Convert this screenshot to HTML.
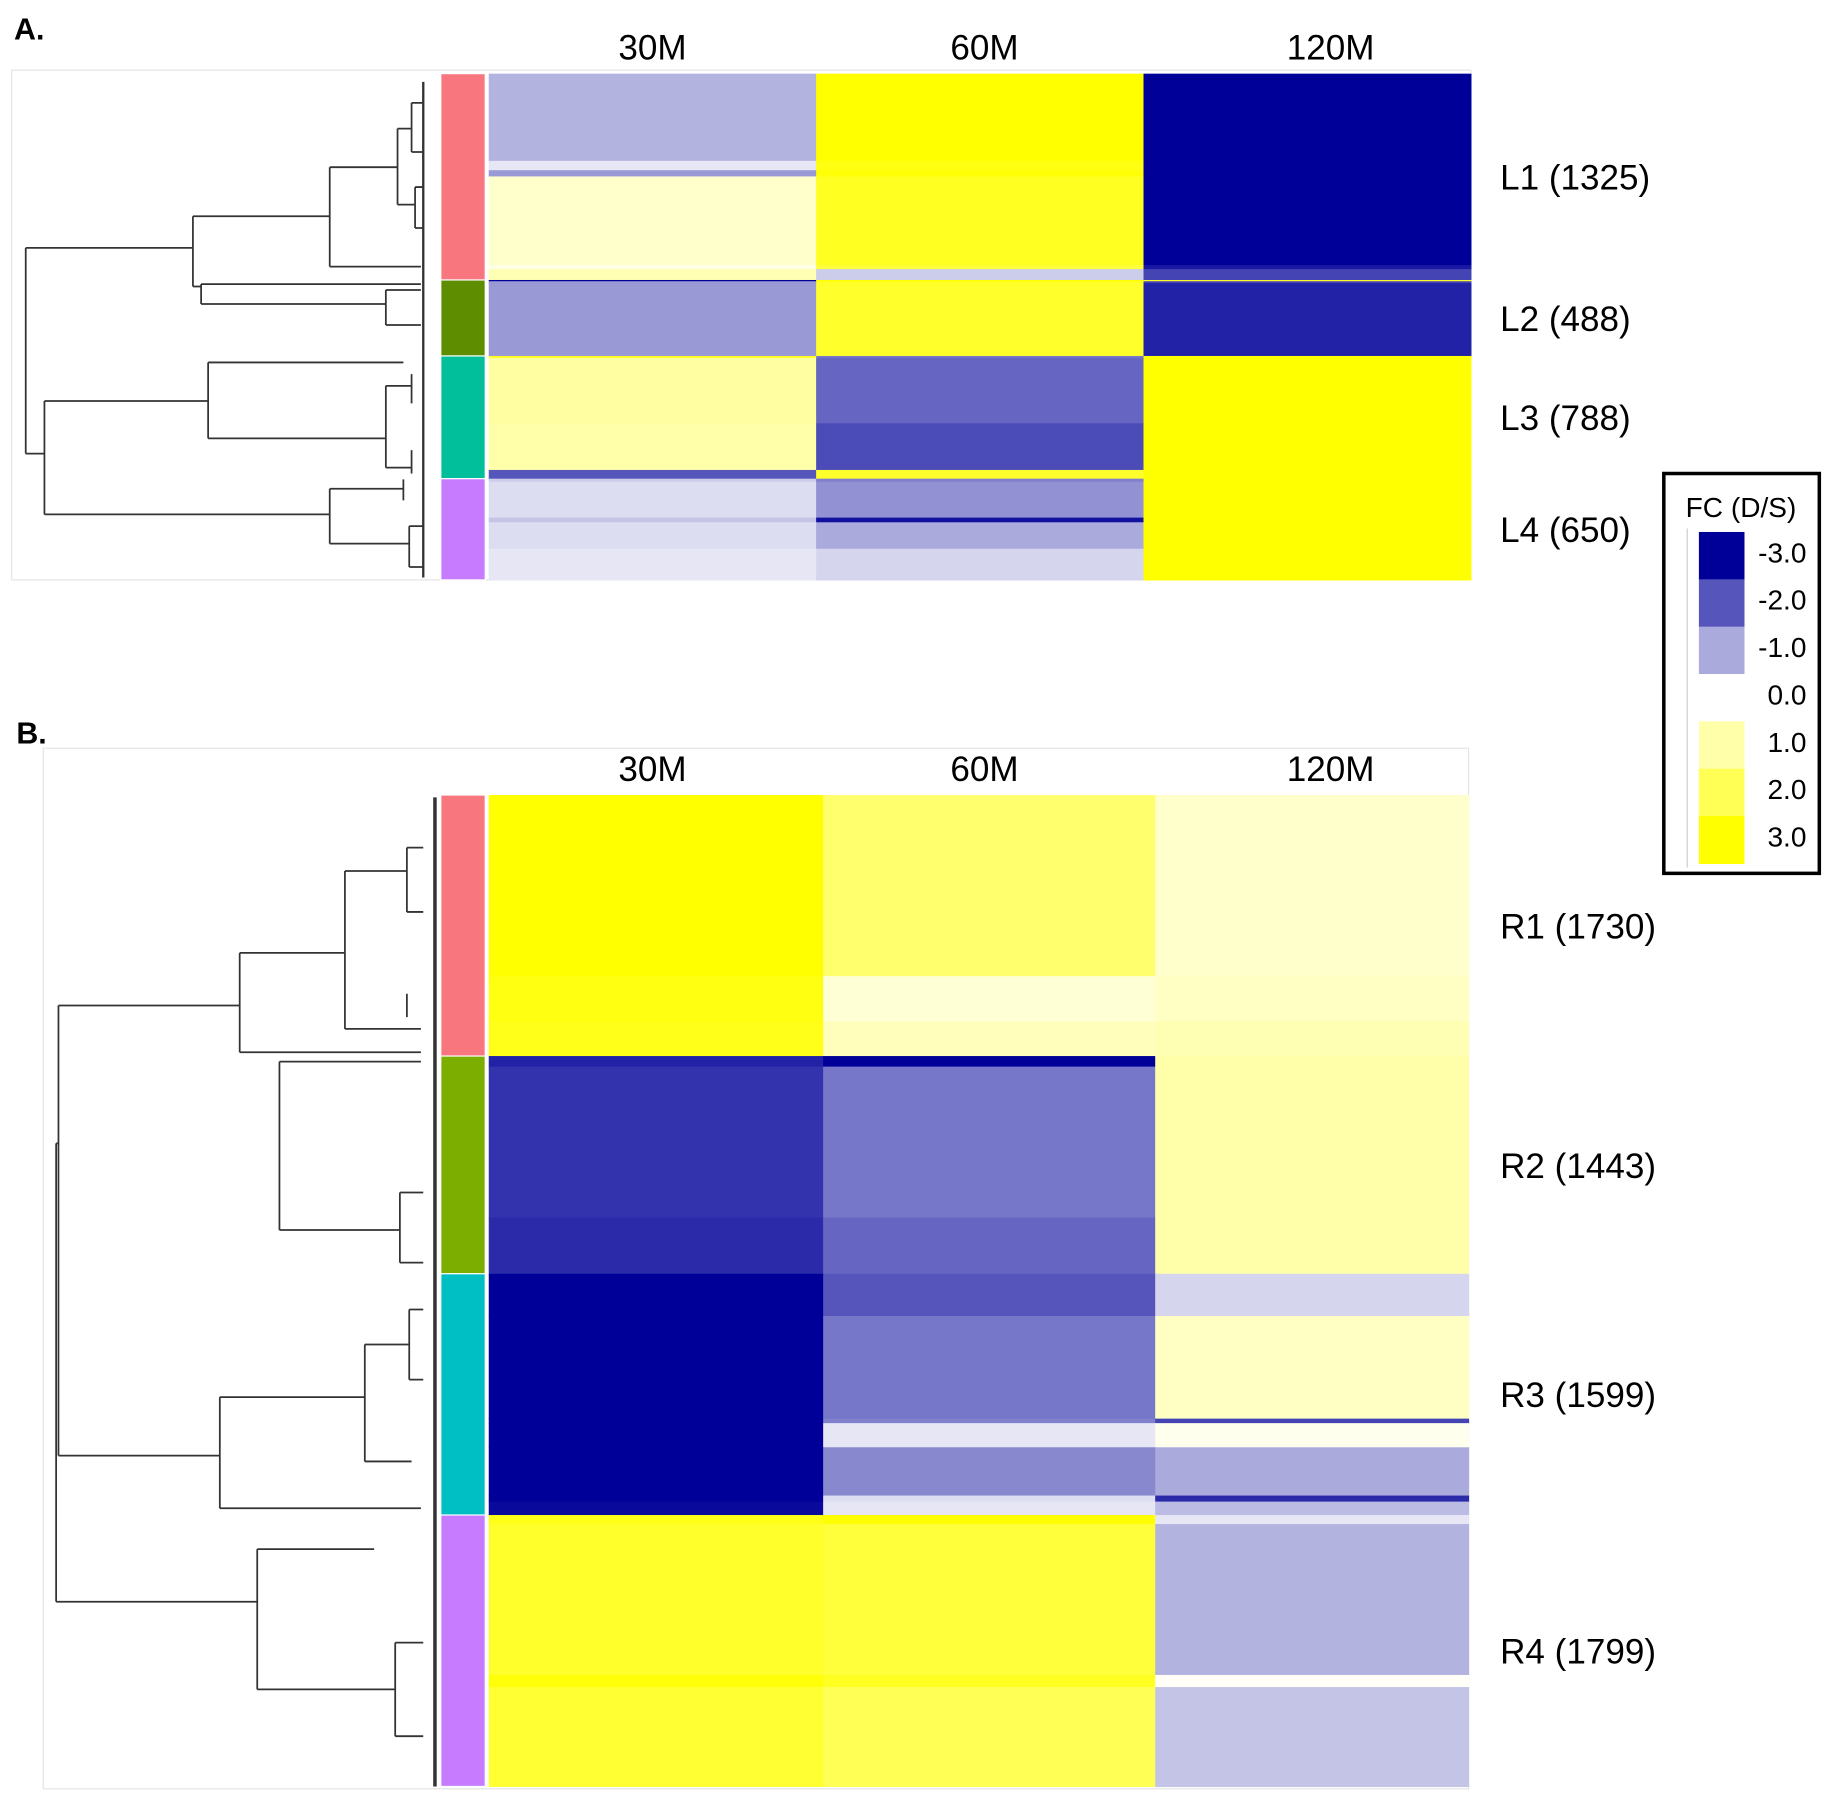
<!DOCTYPE html>
<html><head><meta charset="utf-8">
<style>
html,body{margin:0;padding:0;background:#fff;}
svg{display:block;}
text{font-family:"Liberation Sans","DejaVu Sans",sans-serif;fill:#000;}
</style></head>
<body>
<svg id="fig" xmlns="http://www.w3.org/2000/svg" width="1824" height="1804" viewBox="0 0 1560 1543" preserveAspectRatio="none">
  <rect x="0" y="0" width="1560" height="1543" fill="#fff"/>
  <text x="12" y="34" font-size="26" font-weight="bold">A.</text>
  <text x="14" y="636" font-size="26" font-weight="bold">B.</text>
  <rect x="10" y="60" width="1248" height="436" fill="none" stroke="#e4e4e4" stroke-width="1"/>
  <rect x="37" y="640" width="1219" height="890" fill="none" stroke="#e4e4e4" stroke-width="1"/>
  <g id="dendroA" fill="none" stroke="#333" stroke-width="1.5">
    <path d="M22,212 V388 M22,212 H165 M22,388 H38 M165,185 V245 M165,185 H282 M165,245 H172 M172,243 V260 M172,243 H360 M172,260 H330 M330,248 V278 M330,248 H360 M330,278 H360"/>
    <path d="M282,143 V228 M282,143 H340 M282,228 H360 M340,110 V175 M340,110 H352 M340,175 H355 M352,88 V130 M352,88 H362 M352,130 H362 M355,160 V195 M355,160 H362 M355,195 H362"/>
    <path d="M38,343 V440 M38,343 H178 M38,440 H282 M178,310 V375 M178,310 H345 M178,375 H330 M330,330 V400 M330,330 H352 M330,400 H352 M352,320 V345 M352,385 V405"/>
    <path d="M282,418 V465 M282,418 H345 M282,465 H350 M350,450 V485 M350,450 H362 M350,485 H362 M345,410 V428"/>
    <path d="M362,70 V494" stroke-width="2"/>
  </g>
  <g id="dendroB" fill="none" stroke="#333" stroke-width="1.5">
    <path d="M50,860 V1245 M50,860 H205 M50,1245 H188 M48,978 V1370 M48,978 H50 M48,1370 H220"/>
    <path d="M205,815 V900 M205,815 H295 M205,900 H360 M295,745 V880 M295,745 H348 M295,880 H360 M348,725 V780 M348,725 H362 M348,780 H362 M348,850 V870"/>
    <path d="M239,908 V1052 M239,908 H360 M239,1052 H342 M342,1020 V1080 M342,1020 H362 M342,1080 H362"/>
    <path d="M188,1195 V1290 M188,1195 H312 M188,1290 H360 M312,1150 V1250 M312,1150 H350 M312,1250 H352 M350,1120 V1180 M350,1120 H362 M350,1180 H362"/>
    <path d="M220,1325 V1445 M220,1325 H320 M220,1445 H338 M338,1405 V1485 M338,1405 H362 M338,1485 H362"/>
    <path d="M372,682 V1528" stroke-width="3"/>
  </g>
  <g id="heatA"></g>
  <g id="heatB"></g>
  <g id="labels"></g>
  <g id="legend"></g>
</svg>
<script>
// ---- data ----
const columns = ["30M","60M","120M"];
const clustersA = ["L1 (1325)","L2 (488)","L3 (788)","L4 (650)"];
const clusterColorsA = ["#f8767d","#5e8e00","#00bf9a","#c77cff"];
const blockCountsA = [560,60,40,570,25,70, 8,12,468, 12,420,300,56, 20,230,30,170,200];
const blockClusterA = [0,0,0,0,0,0, 1,1,1, 2,2,2,2, 3,3,3,3,3];
const v30A  = [-0.9,-0.3,-1.2,0.6,0.3,0.9, -3,-1.2,-1.2, 2.6,1.1,1.0,-2.0, -0.6,-0.4,-0.7,-0.4,-0.3];
const v60A  = [3,2.8,2.9,2.6,2.3,-0.6, 3,2.6,2.5, -1.6,-1.8,-2.1,2.5, -1.5,-1.3,-2.8,-1.0,-0.5];
const v120A = [-3,-3,-3,-3,-2.7,-2.2, 2.5,-2.2,-2.6, 3,3,3,3, 3,3,3,3,3];

const clustersB = ["R1 (1730)","R2 (1443)","R3 (1599)","R4 (1799)"];
const clusterColorsB = ["#f8767d","#7cae00","#00bfc4","#c77cff"];
const blockCountsB = [1200,300,230, 70,1000,373, 280,680,30,160,320,40,89, 60,1000,80,659];
const blockClusterB = [0,0,0, 1,1,1, 2,2,2,2,2,2,2, 3,3,3,3];
const v30B  = [3,2.8,2.7, -2.6,-2.4,-2.5, -3,-3,-3,-3,-3,-3,-2.9, 2.7,2.5,2.9,2.4];
const v60B  = [1.7,0.5,0.8, -3,-1.6,-1.8, -2.0,-1.6,-1.5,-0.3,-1.4,-0.4,-0.3, 3,2.3,2.6,2.0];
const v120B = [0.6,0.7,0.9, 1.0,1.0,1.0, -0.5,0.7,-2.2,0.2,-1.0,-2.5,-0.8, -0.3,-0.9,0.1,-0.7];
const legendTicks = ["-3.0","-2.0","-1.0","0.0","1.0","2.0","3.0"];
const legendValues = [-3,-2,-1,0,1,2,3];

// ---- helpers ----
const NS="http://www.w3.org/2000/svg";
const stops=[[0,0,153],[85,85,187],[170,170,221],[255,255,255],[255,255,170],[255,255,85],[255,255,0]];
function color(v){
  v=Math.max(-3,Math.min(3,v));const t=v+3,i=Math.min(5,Math.floor(t)),f=t-i;
  const a=stops[i],b=stops[i+1];
  return "rgb("+a.map((c,k)=>Math.round(c+(b[k]-c)*f)).join(",")+")";
}
function mk(tag,attrs,parent){const e=document.createElementNS(NS,tag);for(const k in attrs)e.setAttribute(k,attrs[k]);parent.appendChild(e);return e;}

function drawPanel(g,counts,clusterIdx,vals,colX,top,bottom,names,cColors){
  const total=counts.reduce((a,b)=>a+b,0);
  const yScale=c=>top+(bottom-top)*c/total;
  let cum=0;const cStart={},cEnd={};
  counts.forEach((n,i)=>{
    const y0=yScale(cum),y1=yScale(cum+n);
    const ci=clusterIdx[i];
    if(!(ci in cStart))cStart[ci]=y0; cEnd[ci]=y1;
    vals.forEach((arr,j)=>{
      const r=mk("rect",{x:colX[j],y:y0,width:colX[j+1]-colX[j]+0.5,height:y1-y0+0.5,fill:color(arr[i])},g);
      
      
    });
    cum+=n;
  });
  names.forEach((nm,ci)=>{
    const r=mk("rect",{x:377,y:cStart[ci],width:38,height:cEnd[ci]-cStart[ci],fill:cColors[ci],stroke:"#fff","stroke-width":1},g);
    
    
    const t=mk("text",{x:1283,y:(cStart[ci]+cEnd[ci])/2+11,"font-size":30},document.getElementById("labels"));
    t.textContent=nm;
    
    
  });
  const hx=[558,842,1138];
  columns.forEach((c,j)=>{
    const t=mk("text",{x:hx[j],y:top-12,"font-size":30,"text-anchor":"middle"},document.getElementById("labels"));
    t.textContent=c;
    
    
  });
}
drawPanel(document.getElementById("heatA"),blockCountsA,blockClusterA,[v30A,v60A,v120A],[418,698,978,1258],63,496,clustersA,clusterColorsA);
drawPanel(document.getElementById("heatB"),blockCountsB,blockClusterB,[v30B,v60B,v120B],[418,704,988,1256],680,1528,clustersB,clusterColorsB);

// legend
const lg=document.getElementById("legend");
const box=mk("rect",{x:1423,y:405,width:133,height:342,fill:"#fff",stroke:"#000","stroke-width":3},lg);


const tt=mk("text",{x:1489,y:442,"font-size":24,"text-anchor":"middle"},lg);
tt.textContent="FC (D/S)";


mk("line",{x1:1443,y1:452,x2:1443,y2:742,stroke:"#ccc","stroke-width":1},lg);
legendValues.forEach((v,i)=>{
  const y=455+i*40.5;
  const r=mk("rect",{x:1453,y:y,width:39,height:41,fill:color(v)},lg);
  
  
  const t=mk("text",{x:1545,y:y+26,"font-size":24,"text-anchor":"end"},lg);
  t.textContent=legendTicks[i];
  
  
});
</script>
</body></html>
